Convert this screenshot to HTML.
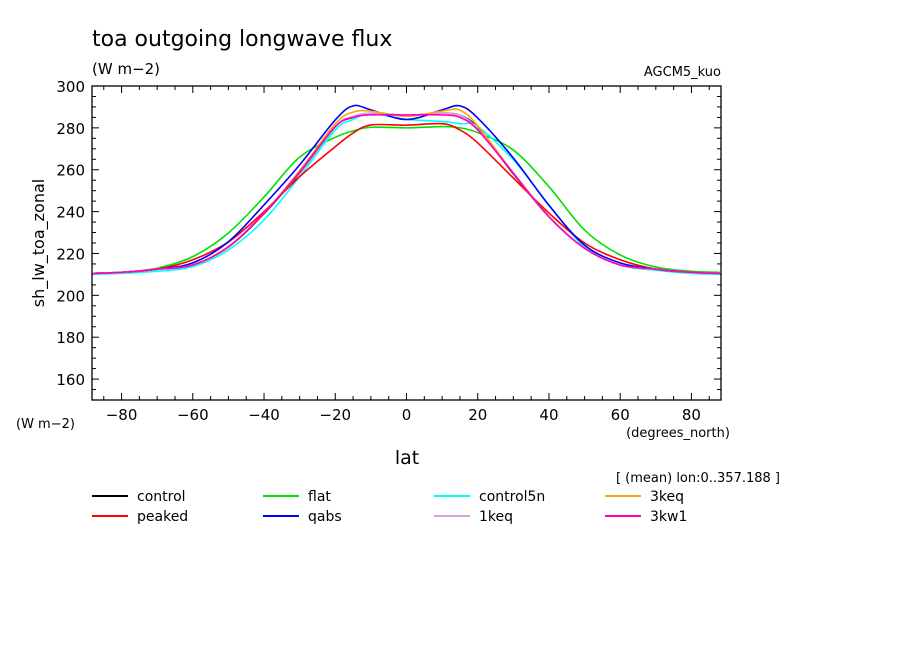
<!DOCTYPE html>
<html><head><meta charset="utf-8"><style>
body{margin:0;background:#fff;}
svg text{font-family:"DejaVu Sans","Liberation Sans",sans-serif;fill:#000;}
</style></head><body>
<svg id="chart" width="904" height="654" xmlns="http://www.w3.org/2000/svg">
<text x="92" y="46" font-size="22">toa outgoing longwave flux</text>
<text x="92" y="74" font-size="15">(W m−2)</text>
<text x="721" y="76" font-size="13" text-anchor="end">AGCM5_kuo</text>
<g id="axes"></g>
<g id="series"></g>
<text x="44" y="243" font-size="16" text-anchor="middle" transform="rotate(-90 44 243)">sh_lw_toa_zonal</text>
<text x="16" y="428" font-size="13">(W m−2)</text>
<text x="678" y="437" font-size="13" text-anchor="middle">(degrees_north)</text>
<text x="407" y="464" font-size="19" text-anchor="middle">lat</text>
<text x="780" y="482" font-size="13" text-anchor="end">[ (mean) lon:0..357.188 ]</text>
<g id="legend"></g>
</svg>
<script>
const lats = [-88,-80,-70,-60,-50,-40,-30,-20,-15,-10,0,10,15,20,30,40,50,60,70,80,88];
const seriesNames = ["control","peaked","flat","qabs","control5n","1keq","3keq","3kw1"];
const seriesColors = ["#000000","#ff0000","#00e000","#0000ff","#00ffff","#dda0dd","#ffa500","#ff00c0"];
const controlVals  = [210.5,211,212.5,214.5,223,239,258.5,280.5,285,287,286,287,286,280,258,237.5,222.5,214.5,212.5,211,210.5];
const peakedVals   = [210.5,211,212.5,217,225.5,240,256.7,271,277.5,281.4,281.3,282,279,272.8,256,239.3,225,217,212.5,211,210.5];
const flatVals     = [210.5,211,213,218.5,229.8,247,266,275.5,278.5,280.3,280,280.6,280,277.7,269.4,251.9,231.2,219.3,213.5,211.5,211];
const qabsVals     = [210.5,211,212.5,215.5,225.6,243.2,262.3,283.8,290.5,288.6,284,288.6,290.5,284.7,265.6,243,224,215.5,212.5,211,210.5];
const c5nVals      = [210,210.5,211.5,213.7,221.7,236,256.7,279,284,286.7,284.1,283,282,280.6,264.7,243.2,223.2,214.5,212,210.5,210];
const k1Vals       = [210.5,211,212.5,214.5,223,239.3,258.8,280.6,285.5,287,286,287,286,279.5,258.4,237.6,222.5,214.5,212.5,211,210.5];
const k3Vals       = [210.5,211,212.5,214.5,223.2,239.3,259.5,282,287.5,288,285.5,288,288.5,281,258.4,237.6,222.5,214.5,212.5,211,210.5];
const kw1Vals      = [210.5,211,212.5,214.5,223.2,239.3,259,280.6,285,286.2,286.2,286.2,285,279,258.4,237.6,222.5,214.5,212.5,211,210.5];
const allVals = [controlVals,peakedVals,flatVals,qabsVals,c5nVals,k1Vals,k3Vals,kw1Vals];
const yTicks = [160,180,200,220,240,260,280,300];
const xTicks = [-80,-60,-40,-20,0,20,40,60,80];

const X0=92,X1=721,Y0=86,Y1=400,XMIN=-88.3,XMAX=88.3,YMIN=150,YMAX=300;
const xs=v=>X0+(v-XMIN)/(XMAX-XMIN)*(X1-X0);
const ys=v=>Y1-(v-YMIN)/(YMAX-YMIN)*(Y1-Y0);
const NS="http://www.w3.org/2000/svg";
function mk(tag,attrs,parent){const e=document.createElementNS(NS,tag);for(const k in attrs)e.setAttribute(k,attrs[k]);parent.appendChild(e);return e;}
const axes=document.getElementById('axes');
const frame=mk('rect',{x:X0,y:Y0,width:X1-X0,height:Y1-Y0,fill:'none',stroke:'#000','stroke-width':1.3},axes);


for(let v=150;v<=300;v+=5){
  const big=v%20===0;const L=big?7:4;const y=ys(v);
  mk('line',{x1:X0,y1:y,x2:X0+L,y2:y,stroke:'#000'},axes);
  mk('line',{x1:X1,y1:y,x2:X1-L,y2:y,stroke:'#000'},axes);
}
yTicks.forEach(v=>{
  const t=mk('text',{x:X0-7,y:ys(v)+6,'font-size':15,'text-anchor':'end'},axes);
  t.textContent=v;
  
  
});
for(let v=-85;v<=85;v+=5){
  const big=v%20===0;const L=big?7:4;const x=xs(v);
  mk('line',{x1:x,y1:Y1,x2:x,y2:Y1-L,stroke:'#000'},axes);
  mk('line',{x1:x,y1:Y0,x2:x,y2:Y0+L,stroke:'#000'},axes);
}
xTicks.forEach(v=>{
  const t=mk('text',{x:xs(v),y:420,'font-size':15,'text-anchor':'middle'},axes);
  t.textContent=v<0?'−'+(-v):v;
  
  
});
function pathFor(vals){
  const p=lats.map((l,i)=>[xs(l),ys(vals[i])]);
  let d='M'+p[0][0]+','+p[0][1];
  for(let i=0;i<p.length-1;i++){
    const p0=p[Math.max(0,i-1)],p1=p[i],p2=p[i+1],p3=p[Math.min(p.length-1,i+2)];
    const c1=[p1[0]+(p2[0]-p0[0])/6,p1[1]+(p2[1]-p0[1])/6];
    const c2=[p2[0]-(p3[0]-p1[0])/6,p2[1]-(p3[1]-p1[1])/6];
    d+=' C'+c1+' '+c2+' '+p2;
  }
  return d;
}
const sg=document.getElementById('series');
const order=[0,2,4,1,3,5,6,7];
order.forEach(i=>{
  const p=mk('path',{d:pathFor(allVals[i]),fill:'none',stroke:seriesColors[i],'stroke-width':1.6},sg);
  
  
});
const lg=document.getElementById('legend');
const legOrder=[0,2,4,6,1,3,5,7];
legOrder.forEach((i,k)=>{
  const col=k%4,row=Math.floor(k/4);
  const x=92+col*171,y=496+row*20;
  const l=mk('line',{x1:x,y1:y,x2:x+36,y2:y,stroke:seriesColors[i],'stroke-width':2},lg);
  
  
  const t=mk('text',{x:x+45,y:y+5,'font-size':14},lg);
  t.textContent=seriesNames[i];
  
  
});
</script>
</body></html>
